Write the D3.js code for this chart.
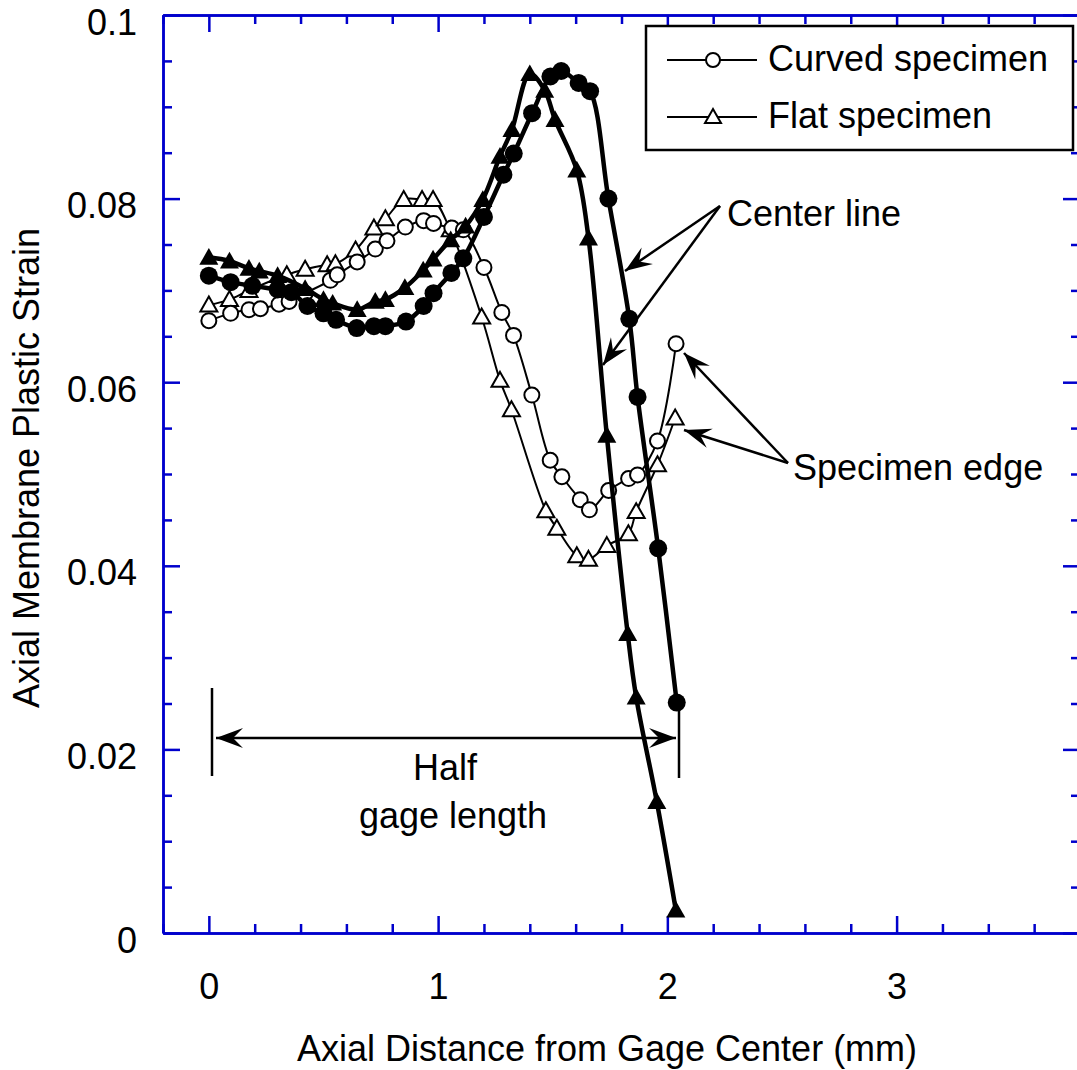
<!DOCTYPE html>
<html><head><meta charset="utf-8">
<script src="https://cdn.jsdelivr.net/npm/d3@7"></script>
<style>
html,body{margin:0;padding:0;background:#fff;}
svg{display:block;}
text{font-family:"Liberation Sans",Arial,Helvetica,sans-serif;}
</style></head><body>
<svg id="chart" width="1077" height="1070"></svg>
<script>
// ---------------- data ----------------
const curvedCenter = [
  [0,0.0716],[0.095,0.0709],[0.19,0.0705],[0.30,0.0701],[0.36,0.0698],[0.43,0.0683],
  [0.50,0.0675],[0.555,0.0668],[0.645,0.0659],[0.72,0.0661],[0.77,0.0661],[0.86,0.0666],
  [0.937,0.0683],[0.98,0.0697],[1.058,0.0719],[1.11,0.0735],[1.20,0.0780],[1.285,0.0826],
  [1.33,0.0849],[1.41,0.0893],[1.49,0.0933],[1.537,0.0939],[1.613,0.0926],[1.663,0.0917],
  [1.743,0.0800],[1.834,0.0669],[1.87,0.0584],[1.96,0.0419],[2.041,0.0251]
];
const flatCenter = [
  [0,0.0736],[0.09,0.0732],[0.175,0.0724],[0.22,0.0721],[0.30,0.0716],[0.42,0.0702],
  [0.50,0.0690],[0.54,0.0686],[0.647,0.0679],[0.726,0.0688],[0.77,0.0690],[0.855,0.0703],
  [0.935,0.0722],[0.978,0.0734],[1.055,0.0755],[1.12,0.0770],[1.195,0.0799],[1.27,0.0846],
  [1.322,0.0875],[1.40,0.0936],[1.465,0.0918],[1.51,0.0886],[1.605,0.0831],[1.656,0.0757],
  [1.736,0.0542],[1.827,0.0326],[1.864,0.0257],[1.954,0.0143],[2.037,0.0025]
];
const curvedEdge = [
  [0,0.0667],[0.095,0.0675],[0.175,0.0679],[0.225,0.0680],[0.306,0.0685],[0.35,0.0688],
  [0.42,0.0697],[0.53,0.0711],[0.56,0.0717],[0.647,0.0731],[0.726,0.0745],[0.777,0.0754],
  [0.857,0.0769],[0.937,0.0776],[0.98,0.0773],[1.06,0.0768],[1.11,0.0766],[1.20,0.0725],
  [1.278,0.0676],[1.329,0.0651],[1.409,0.0586],[1.489,0.0515],[1.54,0.0497],[1.62,0.0472],
  [1.66,0.0461],[1.744,0.0482],[1.831,0.0495],[1.87,0.0499],[1.957,0.0536],[2.038,0.0642]
];
const flatEdge = [
  [0,0.0684],[0.09,0.0690],[0.175,0.0700],[0.34,0.0717],[0.42,0.0723],[0.516,0.0728],
  [0.552,0.0729],[0.64,0.0744],[0.72,0.0768],[0.77,0.0778],[0.85,0.0799],[0.93,0.0799],
  [0.978,0.0799],[1.053,0.0766],[1.19,0.0671],[1.27,0.0602],[1.32,0.0570],[1.47,0.0460],
  [1.518,0.0441],[1.605,0.0411],[1.656,0.0407],[1.736,0.0422],[1.83,0.0435],[1.864,0.0459],
  [1.957,0.0510],[2.034,0.0561]
];
const xMajorTicks = [0,1,2,3];
const xTickLabels = ["0","1","2","3"];
const yMajorTicks = [0,0.02,0.04,0.06,0.08,0.1];
const yTickLabels = ["0","0.02","0.04","0.06","0.08","0.1"];
const legendLabels = ["Curved specimen","Flat specimen"];
const xTitle = "Axial Distance from Gage Center (mm)";
const yTitle = "Axial Membrane Plastic Strain";

// ---------------- layout ----------------
const plot = {left:163, top:15, right:1080, bottom:933};
const x = d3.scaleLinear().domain([-0.2,3.8]).range([plot.left,plot.right]);
const y = d3.scaleLinear().domain([0,0.1]).range([plot.bottom,plot.top]);
const svg = d3.select("#chart");
const blue = "#0000cc";
const fs = 36;

const xMinor = d3.range(-2,39).map(d=>d/10).filter(v=>Math.abs(v*5-Math.round(v*5))<1e-9 && Math.abs(v-Math.round(v))>1e-9);
const yMinor = d3.range(0,21).map(d=>d*0.005).filter(v=>Math.abs(v/0.02-Math.round(v/0.02))>1e-6);

function styleAxis(g){
  g.selectAll("path,line").attr("stroke",blue).attr("stroke-width",2.5);
  g.selectAll("text").attr("fill","#000").style("font-size",fs+"px")
   .style("font-family",'"Liberation Sans",Arial,sans-serif');
}
// bottom
svg.append("g").attr("transform",`translate(0,${plot.bottom})`)
  .call(d3.axisBottom(x).tickValues(xMinor).tickSize(-9).tickSizeOuter(0).tickFormat(""))
  .call(styleAxis);
svg.append("g").attr("transform",`translate(0,${plot.bottom})`)
  .call(d3.axisBottom(x).tickValues(xMajorTicks).tickSize(-17).tickSizeOuter(0).tickPadding(40)
    .tickFormat((d,i)=>xTickLabels[i]))
  .call(styleAxis);
// top
svg.append("g").attr("transform",`translate(0,${plot.top})`)
  .call(d3.axisTop(x).tickValues(xMinor).tickSize(-9).tickSizeOuter(0).tickFormat(""))
  .call(styleAxis);
svg.append("g").attr("transform",`translate(0,${plot.top})`)
  .call(d3.axisTop(x).tickValues(xMajorTicks).tickSize(-17).tickSizeOuter(0).tickFormat(""))
  .call(styleAxis);
// left
svg.append("g").attr("transform",`translate(${plot.left},0)`)
  .call(d3.axisLeft(y).tickValues(yMinor).tickSize(-9).tickSizeOuter(0).tickFormat(""))
  .call(styleAxis);
svg.append("g").attr("transform",`translate(${plot.left},0)`)
  .call(d3.axisLeft(y).tickValues(yMajorTicks).tickSize(-17).tickSizeOuter(0).tickPadding(26)
    .tickFormat((d,i)=>yTickLabels[i]))
  .call(styleAxis)
  .selectAll("text").attr("dy","0.53em");
// right
svg.append("g").attr("transform",`translate(${plot.right},0)`)
  .call(d3.axisRight(y).tickValues(yMinor).tickSize(-9).tickSizeOuter(0).tickFormat(""))
  .call(styleAxis);
svg.append("g").attr("transform",`translate(${plot.right},0)`)
  .call(d3.axisRight(y).tickValues(yMajorTicks).tickSize(-17).tickSizeOuter(0).tickFormat(""))
  .call(styleAxis);

// axis titles
svg.append("text").attr("x",607).attr("y",1061).attr("text-anchor","middle")
  .style("font-size",fs+"px").text(xTitle);
svg.append("text").attr("transform","translate(39,468) rotate(-90)").attr("text-anchor","middle")
  .style("font-size",fs+"px").text(yTitle);

// ---------------- series ----------------
const lineGen = d3.line().x(d=>x(d[0])).y(d=>y(d[1])).curve(d3.curveCatmullRom.alpha(0.5));
function triPath(cx,cy,s){
  const h=s*0.88;
  return `M${cx},${cy-h/2-1}L${cx+s/2},${cy+h/2-1}L${cx-s/2},${cy+h/2-1}Z`;
}
function drawSeries(data, width, marker, filled){
  const g = svg.append("g");
  g.append("path").attr("d",lineGen(data)).attr("fill","none").attr("stroke","#000")
    .attr("stroke-width",width).attr("stroke-linejoin","round");
  if(marker==="circle"){
    g.selectAll("circle").data(data).join("circle")
      .attr("cx",d=>x(d[0])).attr("cy",d=>y(d[1])).attr("r",filled?9:7.5)
      .attr("fill",filled?"#000":"#fff").attr("stroke","#000").attr("stroke-width",filled?0:2);
  } else {
    g.selectAll("path.m").data(data).join("path").attr("class","m")
      .attr("d",d=>triPath(x(d[0]),y(d[1]),filled?19:17))
      .attr("fill",filled?"#000":"#fff").attr("stroke","#000").attr("stroke-width",filled?0:2)
      .attr("stroke-linejoin","miter");
  }
}
drawSeries(flatEdge, 2, "tri", false);
drawSeries(curvedEdge, 2, "circle", false);
drawSeries(flatCenter, 4.5, "tri", true);
drawSeries(curvedCenter, 4.5, "circle", true);

// ---------------- annotations ----------------
function arrowHead(x1,y1,x2,y2){
  const a=Math.atan2(y2-y1,x2-x1), L=27, W=10, N=17;
  const c=Math.cos(a), s=Math.sin(a);
  const p=(u,v)=>[x2+u*c-v*s, y2+u*s+v*c];
  const pts=[p(0,0),p(-L,W),p(-N,0),p(-L,-W)];
  svg.append("path").attr("d","M"+pts.map(q=>q.join(",")).join("L")+"Z").attr("fill","#000");
}
function arrow(x1,y1,x2,y2){
  svg.append("line").attr("x1",x1).attr("y1",y1).attr("x2",x2).attr("y2",y2)
    .attr("stroke","#000").attr("stroke-width",2.5);
  arrowHead(x1,y1,x2,y2);
}
// center line
arrow(720,206,625,271);
arrow(720,206,603,365);
svg.append("text").attr("x",727).attr("y",226).style("font-size",fs+"px").text("Center line");
// specimen edge
arrow(788,463,684,353);
arrow(788,463,684,430);
svg.append("text").attr("x",793).attr("y",480).style("font-size",fs+"px").text("Specimen edge");
// half gage length
svg.append("line").attr("x1",212).attr("y1",688).attr("x2",212).attr("y2",776).attr("stroke","#000").attr("stroke-width",2.5);
svg.append("line").attr("x1",679).attr("y1",700).attr("x2",679).attr("y2",778).attr("stroke","#000").attr("stroke-width",2.5);
svg.append("line").attr("x1",216).attr("y1",738).attr("x2",676).attr("y2",738).attr("stroke","#000").attr("stroke-width",2.5);
arrowHead(676,738,216,738);
arrowHead(216,738,676,738);
svg.append("text").attr("x",445).attr("y",780).attr("text-anchor","middle").style("font-size",fs+"px").text("Half");
svg.append("text").attr("x",453).attr("y",828).attr("text-anchor","middle").style("font-size",fs+"px").text("gage length");

// ---------------- legend ----------------
const lg = svg.append("g");
lg.append("rect").attr("x",646).attr("y",26).attr("width",427).attr("height",124)
  .attr("fill","#fff").attr("stroke","#000").attr("stroke-width",2.5);
[60,117].forEach((ly,i)=>{
  lg.append("line").attr("x1",667).attr("x2",757).attr("y1",ly).attr("y2",ly).attr("stroke","#000").attr("stroke-width",2);
  if(i===0){
    lg.append("circle").attr("cx",713).attr("cy",ly).attr("r",7).attr("fill","#fff").attr("stroke","#000").attr("stroke-width",2);
  } else {
    lg.append("path").attr("d",triPath(713,ly,16)).attr("fill","#fff").attr("stroke","#000").attr("stroke-width",2);
  }
  lg.append("text").attr("x",768).attr("y",ly+11).style("font-size",fs+"px").text(legendLabels[i]);
});
</script>
</body></html>
